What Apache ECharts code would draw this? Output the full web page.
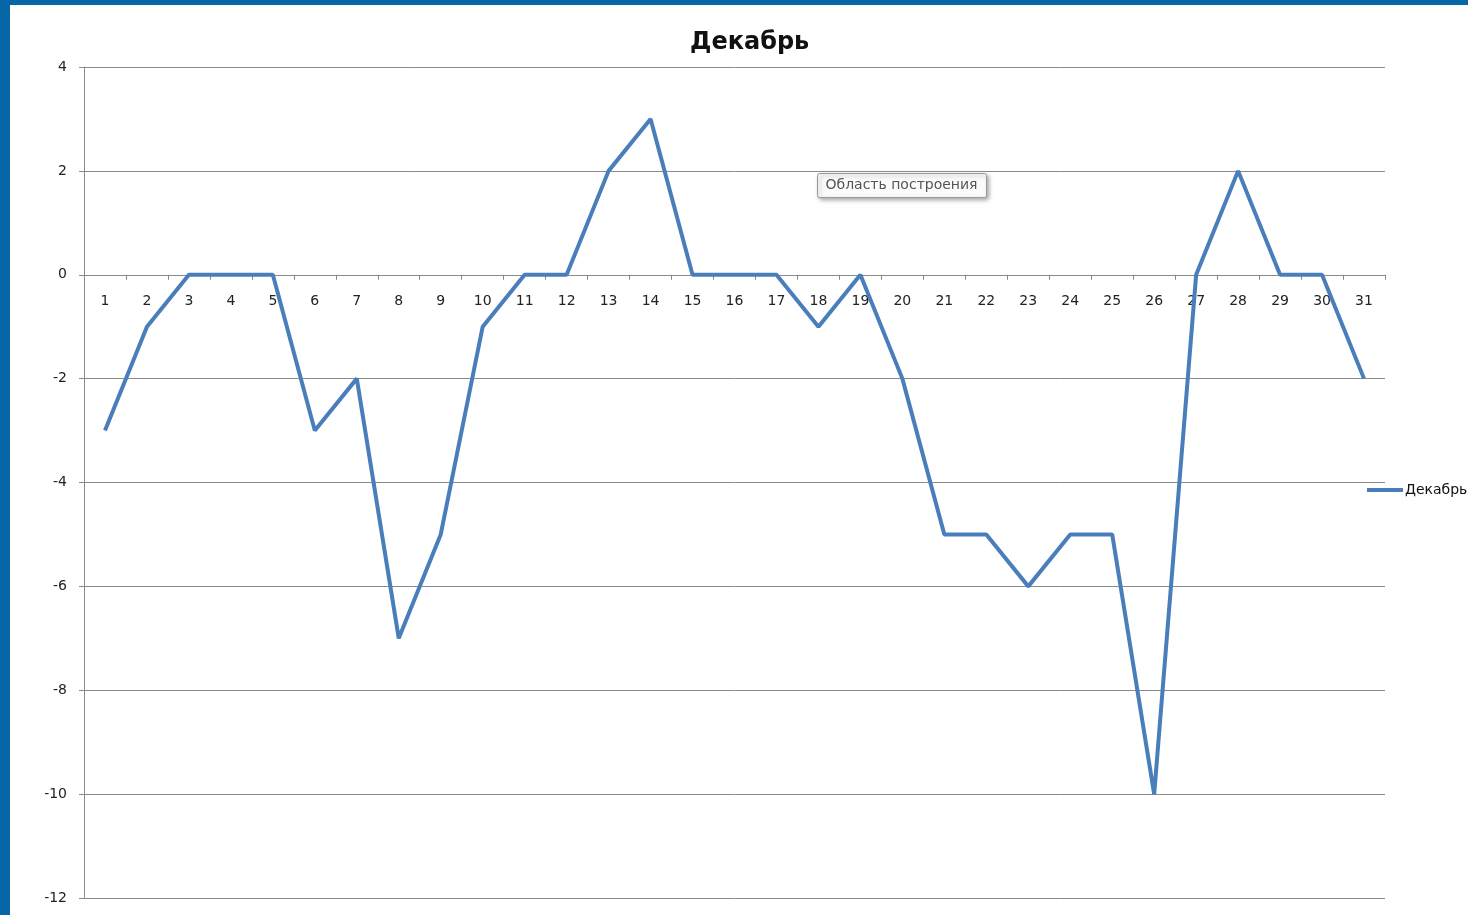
<!DOCTYPE html>
<html>
<head>
<meta charset="utf-8">
<script src="https://cdn.jsdelivr.net/npm/echarts@6/dist/echarts.min.js"></script>
<style>
  html, body { margin: 0; padding: 0; background: #0766a8; overflow: hidden; }
  #chart { position: absolute; left: 10px; top: 5px; width: 1458px; height: 910px; background: #fff; }
</style>
</head>
<body>
<div id="chart"></div>
<script>
// дни месяца
var days = [];
for (var d = 1; d <= 31; d++) days.push(String(d));
// температура по дням
var dekabr = [-3, -1, 0, 0, 0, -3, -2, -7, -5, -1, 0, 0, 2, 3, 0, 0, 0, -1, 0, -2, -5, -5, -6, -5, -5, -10, 0, 2, 0, 0, -2];
var yTicks = { min: -12, max: 4, step: 2 };

var chart = echarts.init(document.getElementById('chart'));
var font = '"DejaVu Sans", sans-serif';
var axisColor = '#8a8a8a';

// подписи дней стоят под нулевой линией, а не внизу
var gridTop = 62, gridBottom = 17, plotH = 910 - gridTop - gridBottom;
var zeroOffset = plotH * (0 - yTicks.min) / (yTicks.max - yTicks.min);

var option = {
  animation: false,
  title: {
    text: 'Декабрь',
    left: 675,
    top: 21,
    textStyle: { fontFamily: font, fontWeight: 'bold', fontSize: 24, color: '#111' }
  },
  grid: { left: 74, right: 83, top: gridTop, bottom: gridBottom, outerBoundsMode: 'none' },
  legend: {
    left: 1352,
    top: 473,
    icon: 'rect',
    itemWidth: 36,
    itemHeight: 4,
    itemGap: 2,
    textStyle: { fontFamily: font, fontSize: 14, color: '#111', padding: [0, 0, 0, -3] },
    data: ['Декабрь']
  },
  xAxis: [{
    type: 'category',
    data: days,
    boundaryGap: true,
    axisLine: { onZero: true, lineStyle: { color: axisColor, width: 1 } },
    axisTick: { show: true, length: 5, lineStyle: { color: axisColor } },
    axisLabel: { show: false },
    splitLine: { show: false }
  }, {
    type: 'category',
    data: days,
    position: 'bottom',
    offset: -zeroOffset,
    axisLine: { show: false, onZero: false },
    axisTick: { show: false },
    axisLabel: { interval: 0, margin: 20, fontFamily: font, fontSize: 14, color: '#222' },
    splitLine: { show: false }
  }],
  yAxis: {
    type: 'value',
    min: yTicks.min,
    max: yTicks.max,
    interval: yTicks.step,
    axisLine: { show: true, lineStyle: { color: axisColor, width: 1 } },
    axisTick: { show: true, length: 5, lineStyle: { color: axisColor } },
    axisLabel: { margin: 17, fontFamily: font, fontSize: 14, color: '#222' },
    splitLine: { show: true, lineStyle: { color: axisColor, width: 1 } }
  },
  series: [{
    name: 'Декабрь',
    type: 'line',
    data: dekabr,
    symbol: 'none',
    color: '#4a7ebb',
    lineStyle: { width: 4, color: '#4a7ebb' }
  }],
  graphic: [{
    type: 'group',
    left: 807,
    top: 168,
    children: [{
      type: 'rect',
      shape: { x: 0, y: 0, width: 169, height: 24, r: 2 },
      style: { fill: '#fbfbfb', stroke: '#9a9a9a', lineWidth: 1, shadowBlur: 4, shadowOffsetX: 2, shadowOffsetY: 2, shadowColor: 'rgba(0,0,0,0.35)' }
    }, {
      type: 'text',
      style: { x: 84, y: 12, text: 'Область построения', align: 'center', verticalAlign: 'middle', font: '14px ' + font, fill: '#555' }
    }]
  }]
};
chart.setOption(option);
</script>
</body>
</html>
